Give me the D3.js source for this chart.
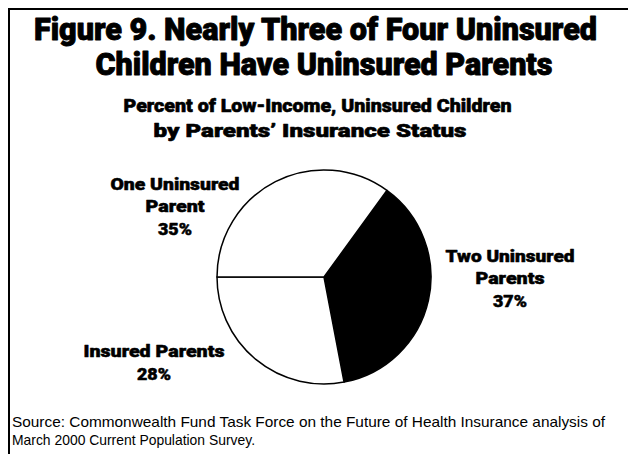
<!DOCTYPE html>
<html>
<head>
<meta charset="utf-8">
<script src="https://cdn.jsdelivr.net/npm/d3@7/dist/d3.min.js"></script>
<style>
  html, body { margin: 0; padding: 0; background: #fff; }
  svg { display: block; }
  .head { font-family: Roboto, "Liberation Sans", Arial, sans-serif; font-weight: 900; fill: #000; stroke: #000; stroke-linejoin: round; }
  .note { font-family: "Liberation Sans", Arial, sans-serif; fill: #000; }
</style>
</head>
<body>
<svg id="chart" width="628" height="454"></svg>
<script>
// Parents' insurance status of low-income uninsured children (percent)
const categories = ["Two Uninsured Parents", "Insured Parents", "One Uninsured Parent"];
const values = [37, 28, 35];
const fills = ["#000000", "#ffffff", "#ffffff"];
const labelLines = [
  ["Two Uninsured", "Parents"],
  ["Insured Parents"],
  ["One Uninsured", "Parent"]
];
const titleLines = ["Figure 9. Nearly Three of Four Uninsured", "Children Have Uninsured Parents"];
const subtitleLines = ["Percent of Low-Income, Uninsured Children", "by Parents\u2019 Insurance Status"];
const sourceLines = [
  "Source: Commonwealth Fund Task Force on the Future of Health Insurance analysis of",
  "March 2000 Current Population Survey."
];

const W = 628, H = 454;
const svg = d3.select("#chart");

// frame: top rule and left rule
svg.append("line").attr("x1", 8).attr("x2", W).attr("y1", 9).attr("y2", 9)
  .attr("stroke", "#000").attr("stroke-width", 2);
svg.append("line").attr("x1", 9).attr("x2", 9).attr("y1", 8).attr("y2", H)
  .attr("stroke", "#000").attr("stroke-width", 2);

// centred text line fitted to a given width
function textLine(cls, x, y, size, str, width, weight) {
  const t = svg.append("text").attr("class", cls)
    .attr("x", x).attr("y", y).attr("font-size", size)
    .attr("text-anchor", "middle").text(str);
  if (width) t.attr("textLength", width).attr("lengthAdjust", "spacingAndGlyphs");
  if (weight) t.attr("stroke-width", weight);
  return t;
}

// title
textLine("head", 315.5, 40, 31, titleLines[0], 563, 0.9);
textLine("head", 324, 75, 31, titleLines[1], 457, 0.9);

// subtitle
textLine("head", 317.5, 112, 19, subtitleLines[0], 388, 0.6);
textLine("head", 310, 137, 19, subtitleLines[1], 313, 0.6);

// pie
const cx = 324, cy = 277, r = 107;
const total = d3.sum(values);
const startDeg = 270 - (values[0] + values[1]) / total * 360;
const pie = d3.pie().sort(null)
  .startAngle(startDeg * Math.PI / 180)
  .endAngle((startDeg + 360) * Math.PI / 180);
const arcs = pie(values);
const arc = d3.arc().innerRadius(0).outerRadius(r);

const g = svg.append("g").attr("transform", `translate(${cx},${cy})`);
g.selectAll("path").data(arcs).enter().append("path")
  .attr("d", arc)
  .attr("fill", (d, i) => fills[i])
  .attr("stroke", "#000")
  .attr("stroke-width", 1.5)
  .attr("stroke-linejoin", "round");

// slice labels: name lines followed by the percent
const labelPos = [
  { x: 510, y: 262 },
  { x: 154, y: 357 },
  { x: 175, y: 190 }
];
const labelWidths = [
  [129, 69, 34],
  [141, 34],
  [129, 59, 34]
];
const lineGap = 22;
arcs.forEach((d, i) => {
  const p = labelPos[i];
  const lines = labelLines[i];
  lines.forEach((s, k) => {
    textLine("head", p.x, p.y + k * lineGap, 16.5, s, labelWidths[i][k], 0.5);
  });
  textLine("head", p.x, p.y + lines.length * lineGap + 1, 16.5, d.data + "%",
    labelWidths[i][lines.length], 0.5);
});

// source note
textLine("note", 308.5, 427, 14.5, sourceLines[0], 593);
svg.append("text").attr("class", "note").attr("x", 12).attr("y", 445)
  .attr("font-size", 14.5).attr("textLength", 243).attr("lengthAdjust", "spacingAndGlyphs")
  .text(sourceLines[1]);
</script>
</body>
</html>
